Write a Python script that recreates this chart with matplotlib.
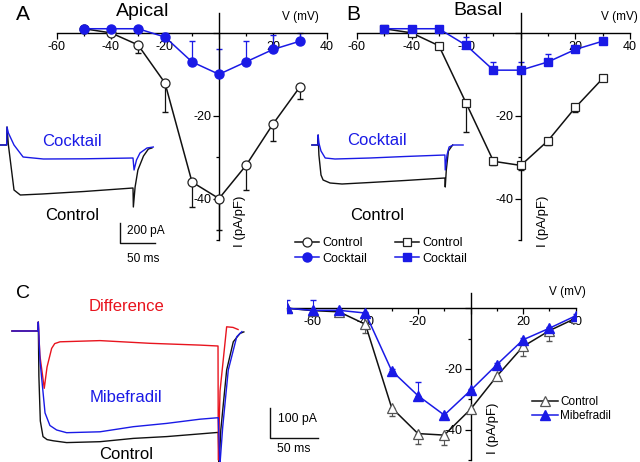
import matplotlib
matplotlib.use('Agg')
import matplotlib.pyplot as plt
import numpy as np
from matplotlib.ticker import FixedLocator, FixedFormatter

plt.rcParams['font.family'] = ['Liberation Sans', 'DejaVu Sans']
plt.rcParams['axes.unicode_minus'] = False

# ---- I-V data, panels A and B (pA/pF vs mV) ----
volt_ab = [-50, -40, -30, -20, -10, 0, 10, 20, 30]
ctrl_a = [1.0, 0.0, -2.9, -12.1, -36.0, -40.0, -32.0, -22.0, -13.0]
ctrl_a_err = [0, 0, 2.0, 7.0, 6.0, 7.5, 6.0, 4.0, 3.0]
cock_a = [1.0, 1.0, 1.0, -1.0, -7.0, -10.0, -7.0, -4.0, -2.0]
cock_a_err = [0, 0, 0, 1.0, 5.0, 6.0, 5.0, 3.5, 2.0]

ctrl_b = [1.0, 0.0, -3.1, -17.0, -31.0, -32.0, -26.0, -18.0, -11.0]
ctrl_b_err = [0, 0, 0.5, 7.0, 1.0, 1.0, 1.0, 1.0, 0.5]
cock_b = [1.0, 1.0, 1.0, -3.0, -9.0, -9.0, -7.0, -4.0, -2.0]
cock_b_err = [0, 0, 0, 2.1, 1.9, 1.9, 1.8, 0.7, 0.5]

# ---- I-V data, panel C ----
volt_c = [-70, -60, -50, -40, -30, -20, -10, 0, 10, 20, 30, 40]
ctrl_c = [0.0, -0.8, -1.2, -5.3, -32.8, -41.3, -41.8, -33.3, -22.4, -12.6, -7.4, -3.3]
ctrl_c_err = [0, 0, 0, 2.9, 2.8, 3.5, 3.4, 1.0, 1.0, 3.1, 3.3, 0.5]
mibe_c = [0.0, -0.7, -0.7, -1.6, -20.6, -28.8, -35.2, -27.1, -18.6, -10.4, -6.6, -2.5]
mibe_c_err = [2.6, 3.3, 0.5, 0.5, 0.5, 4.4, 0.5, 0.5, 0.5, 0.5, 0.5, 0.5]

# ---- current traces (ms, pA) ----
a_cock_t = [0, 9.5, 10, 12, 20, 33, 62, 120, 190, 191.5, 195, 200, 210, 219]
a_cock_i = [0, 0, 180, 120, 0, -120, -140, -138, -130, -250, -150, -80, -30, -20]
a_ctrl_t = [0, 9.5, 10, 12, 20, 29, 60, 120, 190, 190.5, 193, 197, 205, 212, 217]
a_ctrl_i = [0, 0, 180, 0, -450, -500, -490, -465, -430, -620, -420, -250, -110, -40, -30]

b_cock_t = [17, 25.7, 25.9, 27, 30, 36, 50, 100, 150, 207, 207.5, 210, 213, 219, 233]
b_cock_i = [0, 0, 100, 20, -60, -130, -140, -130, -115, -100, -250, -100, -20, 0, 0]
b_ctrl_t = [17, 25.7, 25.9, 27, 30, 33, 43, 60, 100, 150, 207, 207.5, 209, 212, 218]
b_ctrl_i = [0, 0, 100, -100, -300, -350, -380, -390, -375, -355, -330, -420, -250, -60, 0]

c_ctrl_t = [12.5, 39.5, 39.9, 40.5, 42, 44.8, 49, 55.5, 69.4, 104.2, 138.9, 173.6, 208.3, 227.4,
            228.2, 230, 236.1, 243, 250, 254]
c_ctrl_i = [0, 0, 30, -150, -300, -352, -362, -366, -372, -369, -358, -352, -343, -338,
            -450, -330, -130, -36, -8, -3]
c_mibe_t = [12.5, 39.5, 39.9, 41.7, 46.9, 52, 59, 69.4, 104.2, 138.9, 173.6, 208.3, 227.4,
            229, 232, 237.8, 246.6, 252]
c_mibe_i = [0, 0, 30, -100, -273, -315, -330, -339, -336, -319, -308, -294, -289,
            -450, -320, -130, -19, -2]
c_diff_t = [12.5, 39.5, 39.9, 41.5, 46.1, 49, 53.8, 57, 62.5, 104.2, 156, 208.3, 227.1,
            227.4, 229.2, 236.1, 242.7, 248]
c_diff_i = [0, 0, 30, -80, -191, -120, -58, -42, -36, -32, -41, -47, -50,
            -430, -200, 14, 12, 5]

W, H = 640, 462
fig = plt.figure(figsize=(6.4, 4.62), dpi=100)

BLUE = '#1a1ae6'
RED = '#e8141e'
BLACK = '#111111'


def box(x0, y0, x1, y1):
    return [x0 / W, 1 - y1 / H, (x1 - x0) / W, (y1 - y0) / H]


def fx(x):
    return x / W


def fy(y):
    return 1 - y / H


def iv_axes(rect, xlim, ylim, xmaj, xmin):
    ax = fig.add_axes(rect)
    ax.patch.set_visible(False)
    ax.set_xlim(xlim)
    ax.set_ylim(ylim)
    for s in ['top', 'right']:
        ax.spines[s].set_visible(False)
    ax.spines['left'].set_position(('data', 0))
    ax.spines['bottom'].set_position(('data', 0))
    for s in ['left', 'bottom']:
        ax.spines[s].set_linewidth(1.0)
    ax.xaxis.set_major_locator(FixedLocator(xmaj))
    ax.xaxis.set_major_formatter(FixedFormatter(['' if v == 0 else str(v) for v in xmaj]))
    ax.xaxis.set_minor_locator(FixedLocator(xmin))
    ax.yaxis.set_major_locator(FixedLocator([-40, -20, 0]))
    ax.yaxis.set_major_formatter(FixedFormatter(['-40', '-20', '']))
    ax.yaxis.set_minor_locator(FixedLocator([-50, -30, -10]))
    ax.tick_params(which='major', length=4, width=0.9, labelsize=9, pad=1.5, direction='out')
    ax.tick_params(which='minor', length=2.5, width=0.9, direction='out')
    return ax


def trace_axes(rect, xlim, ylim):
    ax = fig.add_axes(rect)
    ax.set_xlim(xlim)
    ax.set_ylim(ylim)
    ax.axis('off')
    return ax


# ---------------- Panel A ----------------
axA = iv_axes(box(57, 13, 327, 240), (-60, 40), (-50, 4.8),
              [-60, -40, -20, 0, 20, 40], [-50, -30, -10, 10, 30])
hA1, = axA.plot(volt_ab, ctrl_a, '-o', color=BLACK, lw=1.1, ms=6.5, mfc='white', mec='#222222',
                mew=0.9, label='Control', zorder=3)
axA.errorbar(volt_ab, ctrl_a, yerr=[ctrl_a_err, np.zeros(len(ctrl_a_err))], fmt='none',
             ecolor=BLACK, elinewidth=0.9, capsize=2.5, zorder=2)
hA2, = axA.plot(volt_ab, cock_a, '-o', color=BLUE, lw=1.1, ms=6.5, mfc=BLUE, mec=BLUE,
                label='Cocktail', zorder=4)
axA.errorbar(volt_ab, cock_a, yerr=[np.zeros(len(cock_a_err)), cock_a_err], fmt='none',
             ecolor=BLUE, elinewidth=0.9, capsize=2.5, zorder=2)
axA.text(30, 3.9, 'V (mV)', fontsize=8.5, ha='center', va='center')
axA.text(7.8, -45.5, 'I (pA/pF)', fontsize=9.5, rotation=90, ha='center', va='center')

# ---------------- Panel B ----------------
axB = iv_axes(box(357, 13, 630, 240), (-60, 40), (-50, 4.8),
              [-60, -40, -20, 0, 20, 40], [-50, -30, -10, 10, 30])
hB1, = axB.plot(volt_ab, ctrl_b, '-s', color=BLACK, lw=1.1, ms=5.8, mfc='white', mec='#222222',
                mew=0.9, label='Control', zorder=3)
axB.errorbar(volt_ab, ctrl_b, yerr=[ctrl_b_err, np.zeros(len(ctrl_b_err))], fmt='none',
             ecolor=BLACK, elinewidth=0.9, capsize=2.5, zorder=2)
hB2, = axB.plot(volt_ab, cock_b, '-s', color=BLUE, lw=1.1, ms=5.8, mfc=BLUE, mec=BLUE,
                label='Cocktail', zorder=4)
axB.errorbar(volt_ab, cock_b, yerr=[np.zeros(len(cock_b_err)), cock_b_err], fmt='none',
             ecolor=BLUE, elinewidth=0.9, capsize=2.5, zorder=2)
axB.text(36, 3.9, 'V (mV)', fontsize=8.5, ha='center', va='center')
axB.text(8, -45.5, 'I (pA/pF)', fontsize=9.5, rotation=90, ha='center', va='center')

fig.legend([hA1, hA2, hB1, hB2], ['Control', 'Cocktail', 'Control', 'Cocktail'],
           ncol=2, loc='center', bbox_to_anchor=(fx(381), fy(251)), frameon=False,
           fontsize=9, handlelength=1.9, handletextpad=0.3, columnspacing=2.2,
           labelspacing=0.25, borderpad=0)

# ---------------- Panel C (I-V) ----------------
axC = iv_axes(box(286.5, 292.7, 575.7, 460), (-70, 40), (-50, 5.1),
              [-60, -40, -20, 0, 20, 40], [-70, -50, -30, -10, 10, 30])
hC1, = axC.plot(volt_c, ctrl_c, '-^', color=BLACK, lw=1.1, ms=7, mfc='white', mec='#555555',
                mew=0.9, label='Control', zorder=3)
axC.errorbar(volt_c, ctrl_c, yerr=[ctrl_c_err, np.zeros(len(ctrl_c_err))], fmt='none',
             ecolor='#555555', elinewidth=0.8, capsize=2, zorder=2)
hC2, = axC.plot(volt_c, mibe_c, '-^', color=BLUE, lw=1.1, ms=7, mfc=BLUE, mec=BLUE,
                label='Mibefradil', zorder=4)
axC.errorbar(volt_c, mibe_c, yerr=[np.zeros(len(mibe_c_err)), mibe_c_err], fmt='none',
             ecolor=BLUE, elinewidth=0.8, capsize=2, zorder=2)
axC.text(37, 5.3, 'V (mV)', fontsize=8.5, ha='center', va='center')
axC.text(8.5, -39.5, 'I (pA/pF)', fontsize=9.5, rotation=90, ha='center', va='center')
axC.legend([hC1, hC2], ['Control', 'Mibefradil'], loc='center left',
           bbox_to_anchor=(fx(526), fy(409)), bbox_transform=fig.transFigure,
           frameon=False, fontsize=8.5, handlelength=2.2, handletextpad=0.2,
           labelspacing=0.2, borderpad=0)

# ---------------- Traces A ----------------
msA = 50 / 35.0
tA = trace_axes(box(0, 115, 170, 265), (0, 170 * msA), (-1200, 300))
tA.plot(a_ctrl_t, a_ctrl_i, color=BLACK, lw=1.0)
tA.plot(a_cock_t, a_cock_i, color=BLUE, lw=1.0)
bar_ms, bar_pa = 50, 200
tA.plot([120 * msA, 120 * msA, 120 * msA + bar_ms], [-780, -780 - bar_pa, -780 - bar_pa],
        color=BLACK, lw=1.0)

tB = trace_axes(box(300, 115, 470, 265), (0, 170 * msA), (-1200, 300))
tB.plot(b_ctrl_t, b_ctrl_i, color=BLACK, lw=1.0)
tB.plot(b_cock_t, b_cock_i, color=BLUE, lw=1.0)

# ---------------- Traces C ----------------
msC = 50 / 48.0
tC = trace_axes(box(0, 290, 330, 462), (0, 330 * msC), (-436.7, 136.7))
tC.plot(c_ctrl_t, c_ctrl_i, color=BLACK, lw=1.0)
tC.plot(c_diff_t, c_diff_i, color=RED, lw=1.0)
tC.plot(c_mibe_t, c_mibe_i, color=BLUE, lw=1.0)
bar_ms_c, bar_pa_c = 50, 100
tC.plot([270 * msC, 270 * msC, 270 * msC + bar_ms_c], [-256.7, -256.7 - bar_pa_c, -256.7 - bar_pa_c],
        color=BLACK, lw=1.0)

# ---------------- text labels ----------------
fig.text(fx(22.5), fy(20), 'A', fontsize=15, ha='center', va='baseline')
fig.text(fx(353), fy(20), 'B', fontsize=15, ha='center', va='baseline')
fig.text(fx(23), fy(298), 'C', fontsize=14, ha='center', va='baseline')
fig.text(fx(143), fy(16), 'Apical', fontsize=14, ha='center', va='baseline')
fig.text(fx(478), fy(15), 'Basal', fontsize=14, ha='center', va='baseline')

fig.text(fx(72), fy(146), 'Cocktail', fontsize=12, color=BLUE, ha='center', va='baseline')
fig.text(fx(72), fy(220), 'Control', fontsize=12, ha='center', va='baseline')
fig.text(fx(377), fy(145), 'Cocktail', fontsize=12, color=BLUE, ha='center', va='baseline')
fig.text(fx(377), fy(220), 'Control', fontsize=12, ha='center', va='baseline')
fig.text(fx(126), fy(311), 'Difference', fontsize=12, color=RED, ha='center', va='baseline')
fig.text(fx(126), fy(402), 'Mibefradil', fontsize=12, color=BLUE, ha='center', va='baseline')
fig.text(fx(126), fy(459), 'Control', fontsize=12, ha='center', va='baseline')

fig.text(fx(127), fy(234), '200 pA', fontsize=8.6, ha='left', va='baseline')
fig.text(fx(127), fy(262), '50 ms', fontsize=8.6, ha='left', va='baseline')
fig.text(fx(278), fy(422), '100 pA', fontsize=8.8, ha='left', va='baseline')
fig.text(fx(277), fy(452), '50 ms', fontsize=8.8, ha='left', va='baseline')

fig.savefig('out.png', dpi=100)
